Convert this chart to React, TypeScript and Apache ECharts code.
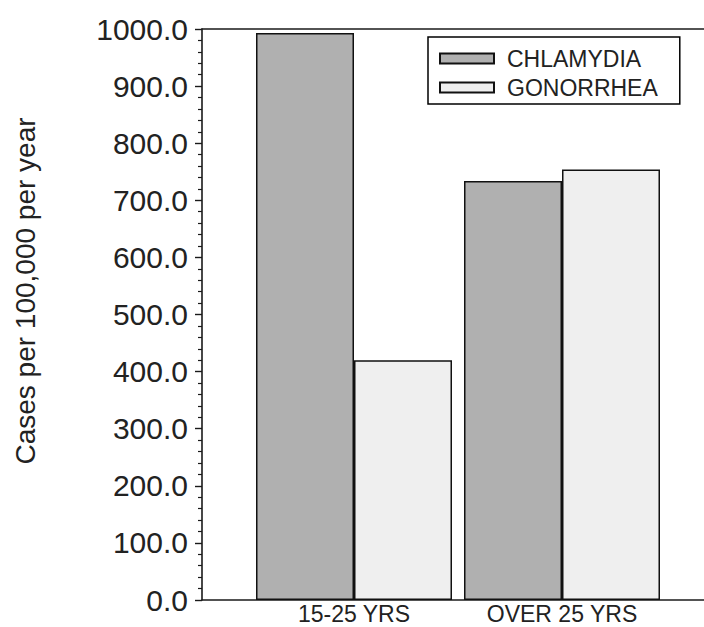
import React, { useEffect, useRef } from "react";
import * as echarts from "echarts";

const categories = ["15-25 YRS", "OVER 25 YRS"];
const chlamydia = [993, 734];
const gonorrhea = [420, 754];
const seriesNames = ["CHLAMYDIA", "GONORRHEA"];
const yTitle = "Cases per 100,000 per year";

const FONT = "'Liberation Sans', Arial, sans-serif";
const AXIS = "#1a1a1a";
const TEXT = "#222";

export default function App() {
  const ref = useRef<HTMLDivElement>(null);
  useEffect(() => {
    if (!ref.current) return;
    const chart = echarts.init(ref.current, null, { renderer: "svg" });
    const hidden = {
      axisLine: { show: false },
      axisTick: { show: false },
      axisLabel: { show: false },
      splitLine: { show: false },
    };
    chart.setOption({
      animation: false,
      backgroundColor: "#ffffff",
      grid: [
        { left: 202, right: 0, top: 29, bottom: 27 },
        { left: 250, right: 38, top: 29, bottom: 27 },
      ],
      xAxis: [
        {
          gridIndex: 0,
          type: "value",
          min: 0,
          max: 1,
          position: "bottom",
          ...hidden,
          axisLine: { show: true, onZero: false, lineStyle: { color: AXIS, width: 1.6 } },
        },
        {
          gridIndex: 0,
          type: "value",
          min: 0,
          max: 1,
          position: "top",
          ...hidden,
          axisLine: { show: true, onZero: false, lineStyle: { color: AXIS, width: 1.6 } },
        },
        {
          gridIndex: 1,
          type: "category",
          data: categories,
          axisLine: { show: false },
          axisTick: { show: false },
          splitLine: { show: false },
          axisLabel: {
            show: true,
            margin: 2,
            color: TEXT,
            fontFamily: FONT,
            fontSize: 23,
          },
        },
      ],
      yAxis: [
        {
          gridIndex: 0,
          type: "value",
          min: 0,
          max: 1000,
          interval: 100,
          axisLine: { show: true, onZero: false, lineStyle: { color: AXIS, width: 1.6 } },
          axisTick: { show: true, inside: false, length: 7, lineStyle: { color: AXIS, width: 1.4 } },
          minorTick: { show: true, splitNumber: 5, length: 4, lineStyle: { color: AXIS, width: 1.2 } },
          splitLine: { show: false },
          minorSplitLine: { show: false },
          axisLabel: {
            show: true,
            margin: 14,
            color: TEXT,
            fontFamily: FONT,
            fontSize: 30,
            padding: [0, 0, 6, 0],
            formatter: (v: number) => v.toFixed(1),
          },
        },
        {
          gridIndex: 1,
          type: "value",
          min: 0,
          max: 1000,
          ...hidden,
        },
      ],
      legend: {
        show: true,
        orient: "vertical",
        left: 428,
        top: 37,
        data: seriesNames,
        icon: "rect",
        itemWidth: 54,
        itemHeight: 10,
        itemGap: 2,
        padding: [8, 22, 3, 11],
        borderColor: "#000",
        borderWidth: 1.5,
        backgroundColor: "#fff",
        textStyle: {
          fontFamily: FONT,
          fontSize: 23,
          lineHeight: 27,
          color: TEXT,
          padding: [0, 0, 0, 8],
        },
      },
      series: [
        {
          name: seriesNames[0],
          type: "bar",
          xAxisIndex: 2,
          yAxisIndex: 1,
          data: chlamydia,
          barWidth: 98,
          barGap: "0%",
          itemStyle: { color: "#b0b0b0", borderColor: "#111", borderWidth: 1.5 },
        },
        {
          name: seriesNames[1],
          type: "bar",
          xAxisIndex: 2,
          yAxisIndex: 1,
          data: gonorrhea,
          barWidth: 98,
          barGap: "0%",
          itemStyle: { color: "#efefef", borderColor: "#111", borderWidth: 1.5 },
        },
      ],
      graphic: [
        {
          type: "text",
          x: 25,
          y: 291,
          rotation: Math.PI / 2,
          style: {
            text: yTitle,
            fontFamily: FONT,
            fontSize: 28,
            fill: TEXT,
            align: "center",
            verticalAlign: "middle",
          },
        },
      ],
    });
    return () => chart.dispose();
  }, []);
  return (
    <div
      ref={ref}
      style={{ position: "fixed", left: 0, top: 0, width: 704, height: 627 }}
    />
  );
}
